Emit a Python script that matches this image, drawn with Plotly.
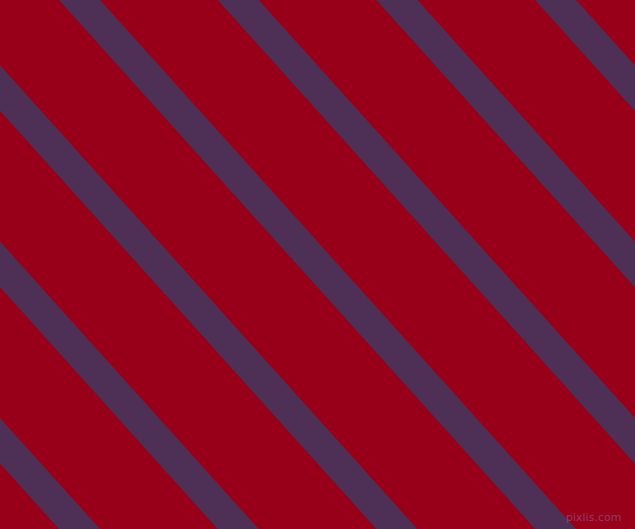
import plotly.graph_objects as go

# stripe pattern: upper-right edge of each stripe where it crosses the top row (px)
stripe_top_edge = [-376.1, -217.4, -58.7, 100.0, 258.7, 417.4, 576.1, 734.8]
stripe_width = 41.0        # horizontal width of a stripe
run_per_row = 0.9          # horizontal shift per pixel row
canvas_w = 635
canvas_h = 529

background = "#98001a"
stripe_color = "#4e2f56"

fig = go.Figure()

for x0 in stripe_top_edge:
    # extend a bit past the canvas so the ends get clipped by the axes
    y_a, y_b = -20, canvas_h + 20
    xa = x0 + y_a * run_per_row
    xb = x0 + y_b * run_per_row
    fig.add_trace(go.Scatter(
        x=[xa - stripe_width, xa, xb, xb - stripe_width, xa - stripe_width],
        y=[y_a, y_a, y_b, y_b, y_a],
        fill="toself",
        fillcolor=stripe_color,
        mode="lines",
        line=dict(width=0, color=stripe_color),
        hoverinfo="skip",
        showlegend=False,
    ))

fig.add_annotation(
    text="pixlis.com", x=0.981, y=0.006, xref="paper", yref="paper",
    xanchor="right", yanchor="bottom", showarrow=False,
    font=dict(family="DejaVu Sans", size=11, color="rgba(140,90,140,0.7)"),
)

fig.update_layout(
    width=canvas_w, height=canvas_h,
    margin=dict(l=0, r=0, t=0, b=0),
    paper_bgcolor=background, plot_bgcolor=background,
    xaxis=dict(range=[0, canvas_w], visible=False, fixedrange=True),
    yaxis=dict(range=[canvas_h, 0], visible=False, fixedrange=True),
)

fig.write_html(
    "out.html",
    config={"displayModeBar": False},
    post_script="document.body.style.margin='0';document.body.style.overflow='hidden';",
)
